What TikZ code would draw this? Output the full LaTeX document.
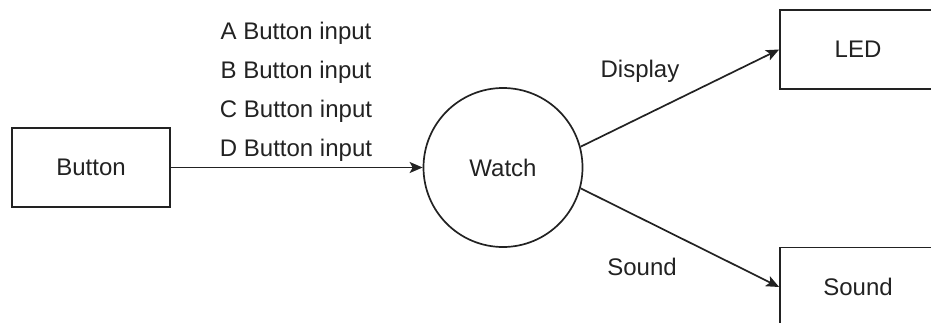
\documentclass[tikz,border=0pt]{standalone}
\usepackage{fontspec}
\setmainfont{Liberation Sans}
\usetikzlibrary{arrows.meta}
\definecolor{ink}{HTML}{222222}
\tikzset{
  box/.style={draw=ink, line width=1.7pt, rectangle, minimum width=156pt, minimum height=79pt, inner sep=0pt, text=ink},
  ring/.style={draw=ink, line width=1.7pt, circle, minimum size=159pt, inner sep=0pt, text=ink},
  flow/.style={draw=ink, line width=1.7pt, -{Stealth[length=13pt,width=11pt,inset=3pt]}},
  lbl/.style={text=ink, anchor=base, inner sep=0pt}
}
\begin{document}
\begin{tikzpicture}[x=1pt,y=-1pt,font=\fontsize{24}{28}\selectfont]
\useasboundingbox (0,0) rectangle (931,322);
\node[box, minimum width=158pt] (button) at (91,167.5) {Button};
\node[ring] (watch) at (503,167.5) {Watch};
\node[box] (led) at (858,49.5) {LED};
\node[box] (sound) at (858,287) {Sound};
\draw[flow] (button.east) -- (watch.west);
\draw[flow] (watch.15) -- (led.west);
\draw[flow] (watch.-15) -- (sound.west);
\node[lbl] (la) at (296,39) {A Button input};
\node[lbl] (lb) at (296,78) {B Button input};
\node[lbl] (lc) at (296,117.5) {C Button input};
\node[lbl] (ld) at (296,156.5) {D Button input};
\node[lbl] (ldisp) at (640,77) {Display};
\node[lbl] (lsnd) at (642,275.5) {Sound};
\end{tikzpicture}
\end{document}
